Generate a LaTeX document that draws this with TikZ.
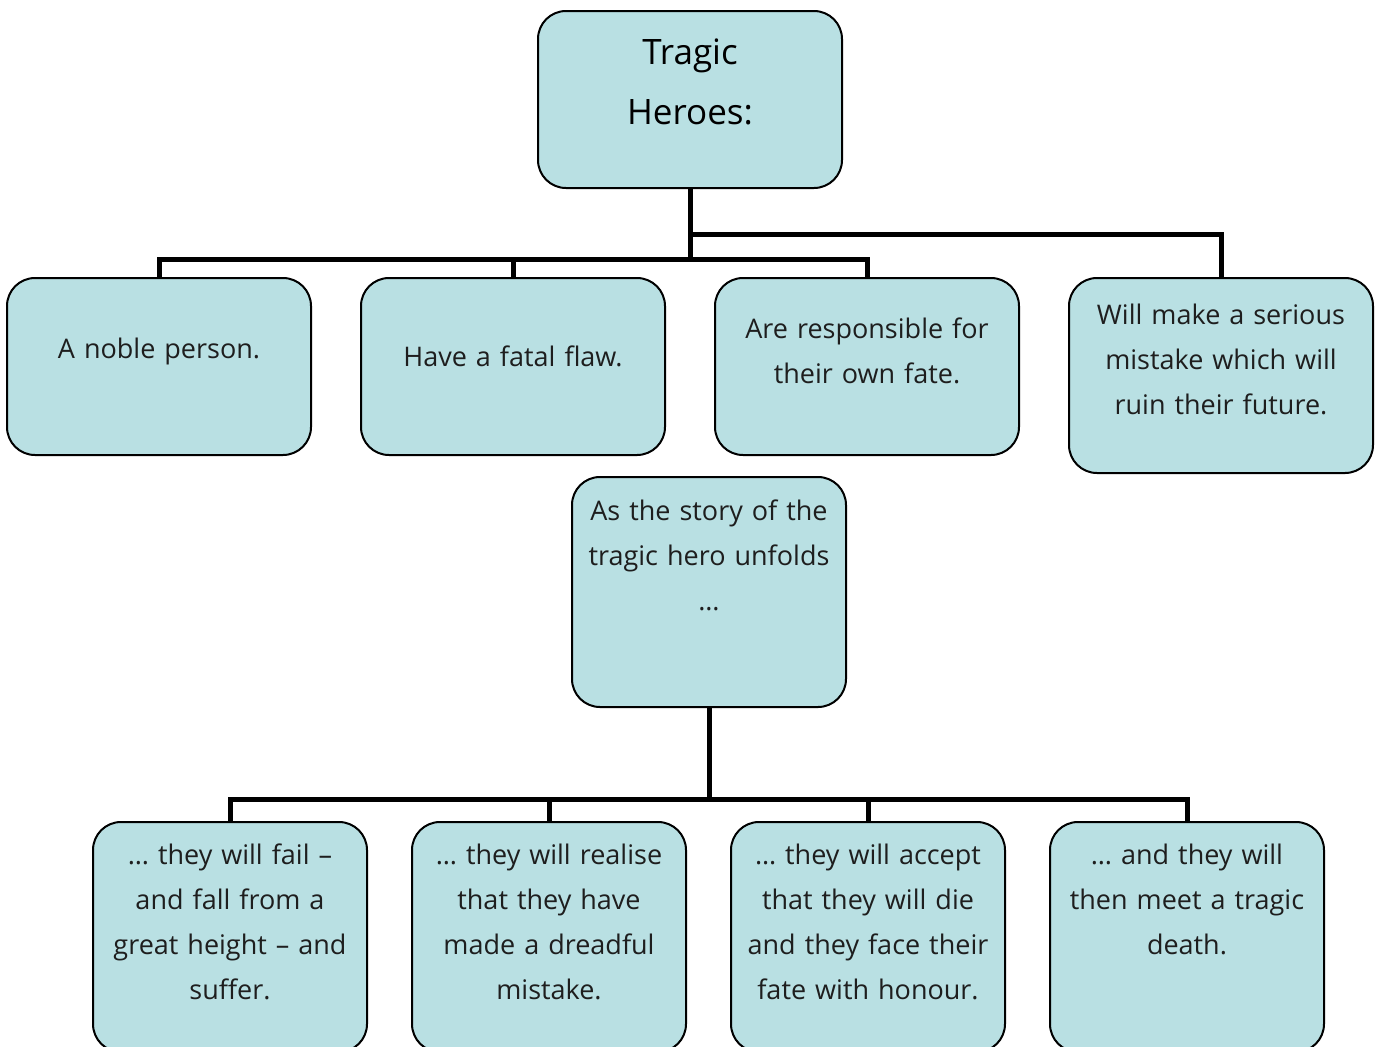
\documentclass[tikz,border=0pt]{standalone}
\usepackage{fontspec}
\setmainfont{Open Sans}
\usetikzlibrary{positioning}
\definecolor{cardfill}{RGB}{185,224,227}
\definecolor{inktext}{RGB}{30,30,30}
\newcommand{\padbelow}[1]{\par\vskip#1\kern0pt}

\begin{document}
\begin{tikzpicture}[x=0.5pt,y=-0.5pt,node distance=24pt,
		card/.style = {draw=black,line width=1pt,fill=cardfill,rounded corners=14pt,
			inner sep=0pt,align=center,text=inktext,
			font=\fontsize{13.5pt}{22.5pt}\selectfont},
		wide card/.style = {card,minimum width=152pt,minimum height=88.5pt,text width=150pt},
		tall card/.style = {card,minimum width=137pt,minimum height=115pt,text width=135pt},
		wire/.style = {line width=2.5pt,black}]
	
	\useasboundingbox (0,0) rectangle (1378,1046);
	
	\node[wide card,text=black,font=\fontsize{17.5pt}{30pt}\selectfont] (hero) at (690,99.5) {Tragic\\Heroes:\padbelow{18pt}};
	
	\node[wide card,anchor=north] (noble) at (159,277) {A noble person.\padbelow{15.5pt}};
	\node[wide card,right=of noble] (flaw) {Have a fatal flaw.\padbelow{10.5pt}};
	\node[wide card,right=of flaw] (fate) {Are responsible for\\their own fate.\padbelow{15.5pt}};
	\node[wide card,minimum height=97.5pt,right=of fate.north east,anchor=north west] (mistake) {Will make a serious\\mistake which will\\ruin their future.\padbelow{16.5pt}};
	
	\node[tall card,anchor=north] (unfold) at (709,476) {As the story of the\\tragic hero unfolds\\…\padbelow{37pt}};
	
	\node[tall card,anchor=north] (fail) at (230,821) {… they will fail –\\and fall from a\\great height – and\\suffer.\padbelow{15.5pt}};
	\node[tall card,right=21.5pt of fail] (realise) {… they will realise\\that they have\\made a dreadful\\mistake.\padbelow{15.5pt}};
	\node[tall card,right=21.5pt of realise] (accept) {… they will accept\\that they will die\\and they face their\\fate with honour.\padbelow{15.5pt}};
	\node[tall card,right=21.5pt of accept] (death) {… and they will\\then meet a tragic\\death.\padbelow{38pt}};
	
	% upper tree
	\draw[wire] (hero.south) -- ++(0,70) coordinate (fork) -| (noble.north);
	\draw[wire] (fork) -| (flaw.north);
	\draw[wire] (fork) -| (fate.north);
	\draw[wire] (hero.south) ++(0,45) -| (mistake.north);
	
	% lower tree
	\draw[wire] (unfold.south) -- ++(0,91) coordinate (split) -| (fail.north);
	\foreach \n in {realise,accept,death}
		\draw[wire] (split) -| (\n.north);
	
\end{tikzpicture}
\end{document}
